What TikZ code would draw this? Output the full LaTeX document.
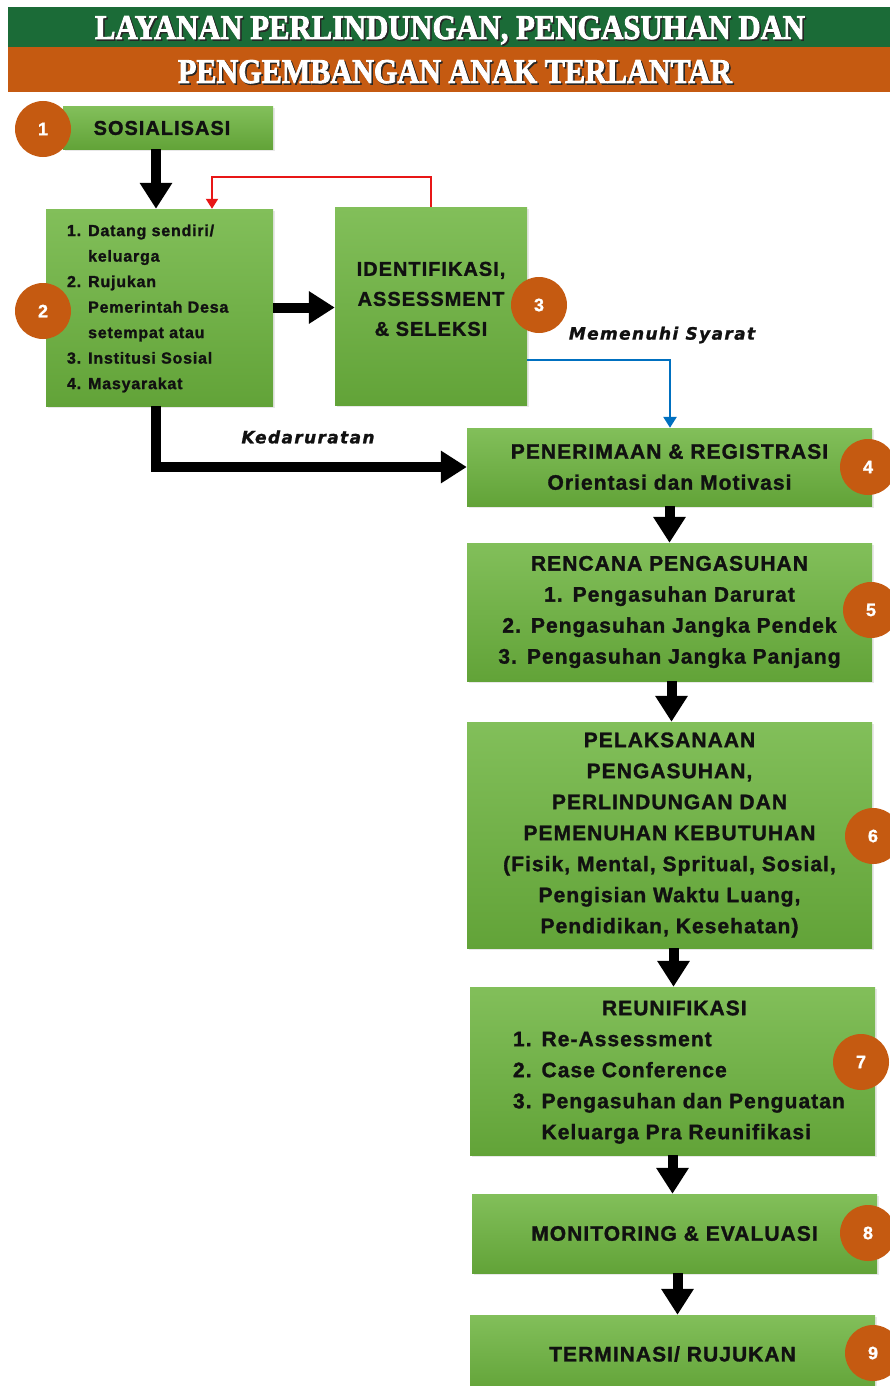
\documentclass[tikz,border=0pt]{standalone}
\usepackage{fontspec}
\usepackage{graphicx}
\setmainfont{Liberation Sans}
\newfontfamily\bxf[LetterSpace=5,FakeBold=1.4]{Liberation Sans Bold}
\newfontfamily\lbf[LetterSpace=8,FakeBold=1.2]{DejaVu Sans Bold Oblique}
\newfontfamily\hdf[FakeBold=2.5]{Liberation Serif Bold}
\newfontfamily\nmf[FakeBold=1]{Liberation Sans Bold}
\usetikzlibrary{arrows.meta,shadows}
\definecolor{hgreen}{RGB}{27,107,55}
\definecolor{horange}{RGB}{197,90,17}
\definecolor{gtop}{RGB}{130,191,90}
\definecolor{gbot}{RGB}{98,163,56}
\definecolor{numc}{RGB}{197,90,17}
\definecolor{bluec}{RGB}{0,112,192}
\definecolor{redc}{RGB}{232,22,22}
\definecolor{txt}{RGB}{17,17,17}
\begin{document}
\begin{tikzpicture}[x=1pt,y=-1pt,
  box/.style={rectangle, inner sep=0pt, top color=gtop, bottom color=gbot, draw=none,
    text=txt, align=center,
    drop shadow={opacity=0.18, shadow xshift=1.5pt, shadow yshift=-1.5pt}},
  bigtxt/.style={font=\bxf\fontsize{21}{31}\selectfont},
  num/.style={circle, fill=numc, text=white, minimum size=56pt, inner sep=0pt,
    font=\nmf\fontsize{18}{18}\selectfont},
  blk/.style={line width=10pt, draw=black, -{Triangle[width=31pt,length=26pt]}},
  redline/.style={line width=2pt, draw=redc, -{Triangle[width=12pt,length=10pt]}},
  blueline/.style={line width=2.6pt, draw=bluec, -{Triangle[width=13pt,length=11pt]}},
  lab/.style={font=\lbf\fontsize{17}{17}\selectfont, text=txt, inner sep=0pt},
  hd/.style={inner sep=0pt, anchor=base}
]
\useasboundingbox (0,0) rectangle (890,1386);
\fill[white] (0,0) rectangle (890,1386);

% header bands
\fill[hgreen] (8,7) rectangle (890,47.5);
\fill[horange] (8,47.5) rectangle (890,92);
\node[hd, text=black!85] (hd1s) at (451.5,40.5) {\resizebox{710pt}{23pt}{\hdf LAYANAN PERLINDUNGAN, PENGASUHAN DAN}};
\node[hd, text=white] (hd1) at (450,39) {\resizebox{710pt}{23pt}{\hdf LAYANAN PERLINDUNGAN, PENGASUHAN DAN}};
\node[hd, text=black!85] (hd2s) at (456.5,84.5) {\resizebox{554pt}{23pt}{\hdf PENGEMBANGAN ANAK TERLANTAR}};
\node[hd, text=white] (hd2) at (455,83) {\resizebox{554pt}{23pt}{\hdf PENGEMBANGAN ANAK TERLANTAR}};

% boxes
\node[box, minimum width=210pt, minimum height=42pt,
  font=\bxf\fontsize{20}{24}\selectfont] (b1) at (168,128) {\hspace*{-12pt}SOSIALISASI};
\node[box, minimum width=227pt, minimum height=197pt,
  font=\bxf\fontsize{16}{25.5}\selectfont] (b2) at (159.5,307.5)
  {\makebox[227pt][l]{\hspace{21pt}\begin{tabular}{@{}l@{\hspace{7pt}}l@{}}
   1. & Datang sendiri/\\
      & keluarga\\
   2. & Rujukan\\
      & Pemerintah Desa\\
      & setempat atau\\
   3. & Institusi Sosial\\
   4. & Masyarakat
   \end{tabular}}};
\node[box, minimum width=192pt, minimum height=198pt,
  font=\bxf\fontsize{20}{30}\selectfont] (b3) at (431,306)
  {\raisebox{1pt}[0pt][0pt]{\begin{tabular}{@{}c@{}}IDENTIFIKASI,\\ ASSESSMENT\\ \& SELEKSI\end{tabular}}};
\node[box, bigtxt, minimum width=405pt, minimum height=78pt] (b4) at (669.5,467)
  {PENERIMAAN \& REGISTRASI\\ Orientasi dan Motivasi};
\node[box, bigtxt, minimum width=405pt, minimum height=138pt] (b5) at (669.5,612)
  {RENCANA PENGASUHAN\\ 1.\hspace{10pt}Pengasuhan Darurat\\ 2.\hspace{10pt}Pengasuhan Jangka Pendek\\ 3.\hspace{10pt}Pengasuhan Jangka Panjang};
\node[box, bigtxt, minimum width=405pt, minimum height=226pt] (b6) at (669.5,835)
  {PELAKSANAAN\\ PENGASUHAN,\\ PERLINDUNGAN DAN\\ PEMENUHAN KEBUTUHAN\\ (Fisik, Mental, Spritual, Sosial,\\ Pengisian Waktu Luang,\\ Pendidikan, Kesehatan)};
\node[box, bigtxt, minimum width=405pt, minimum height=168pt] (b7) at (672.5,1071)
  {\makebox[405pt][l]{\hspace{43pt}\begin{tabular}{@{}l@{\hspace{10pt}}l@{}}
   \multicolumn{2}{@{}l@{}}{\hspace{89pt}REUNIFIKASI}\\
   1. & Re-Assessment\\
   2. & Case Conference\\
   3. & Pengasuhan dan Penguatan\\
      & Keluarga Pra Reunifikasi
   \end{tabular}}};
\node[box, bigtxt, minimum width=405pt, minimum height=79pt] (b8) at (674.5,1233.5)
  {MONITORING \& EVALUASI};
\node[box, bigtxt, minimum width=405pt, minimum height=78pt] (b9) at (672.5,1354)
  {TERMINASI/ RUJUKAN};

% connectors
\draw[blk] ([xshift=-12pt]b1.south) -- ([xshift=-12pt]b1.south |- b2.north);
\draw[blk] (b2.east) -- (b2.east -| b3.west);
\draw[blk, line join=miter] ([xshift=-3.5pt]b2.south) |- (b4.west);
\draw[blk] (b4.south) -- (b4.south |- b5.north);
\draw[blk] ([xshift=2pt]b5.south) -- ([xshift=2pt]b5.south |- b6.north);
\draw[blk] ([xshift=4pt]b6.south) -- ([xshift=4pt]b6.south |- b7.north);
\draw[blk] (b7.south) -- (b7.south |- b8.north);
\draw[blk] ([xshift=3pt]b8.south) -- ([xshift=3pt]b8.south |- b9.north);

\coordinate (rtop) at (212,177);
\draw[redline] (b3.north) |- (rtop) -- (rtop |- b2.north);
\coordinate (bstart) at (527,360);
\draw[blueline] (bstart) -| ([xshift=0.5pt]b4.north);

% labels
\node[lab] (kd) at (308,437) {Kedaruratan};
\node[lab] (ms) at (662,335) {Memenuhi Syarat};

% number circles
\node[num] (n1) at (43,129) {1};
\node[num] (n2) at (43,311) {2};
\node[num] (n3) at (539,305) {3};
\node[num] (n4) at (868,467) {4};
\node[num] (n5) at (871,610) {5};
\node[num] (n6) at (873,836) {6};
\node[num] (n7) at (861,1062) {7};
\node[num] (n8) at (868,1233) {8};
\node[num] (n9) at (873,1353) {9};
\end{tikzpicture}
\end{document}
